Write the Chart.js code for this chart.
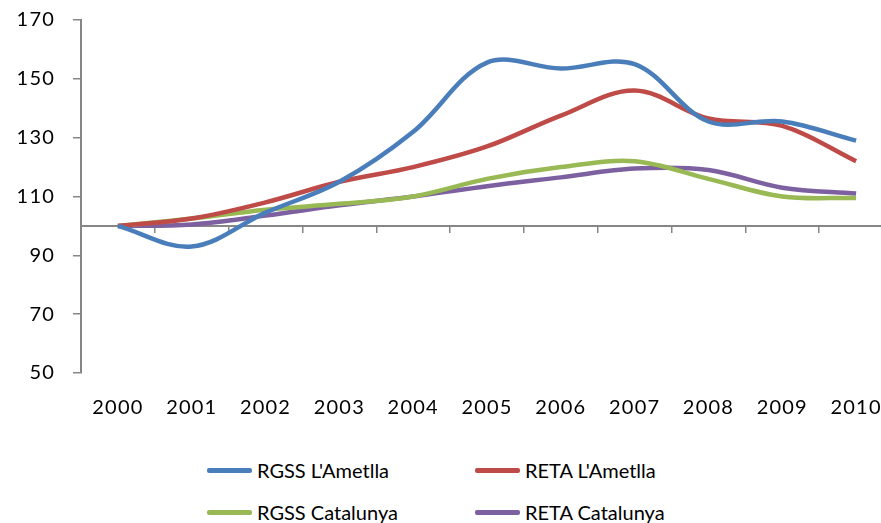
<!DOCTYPE html>
<html>
<head>
<meta charset="utf-8">
<script src="https://cdn.jsdelivr.net/npm/chart.js@4.4.1/dist/chart.umd.min.js"></script>
<style>
    html, body { margin: 0; padding: 0; background: #fff; overflow: hidden; width: 881px; height: 523px; }
    #wrap { position: absolute; left: 0; top: 0; width: 900px; height: 440px; }
    #legend { position: absolute; left: 0; top: 0; font-family: Lato, sans-serif; font-size: 20px; color: #000; }
    .item { position: absolute; height: 26px; display: flex; align-items: center; white-space: nowrap; }
    .item .swatch { width: 45px; height: 5px; border-radius: 2px; margin-right: 5px; }
</style>
</head>
<body>
<div id="wrap"><canvas id="chart" width="900" height="440"></canvas></div>
<div id="legend"></div>
<script>
// --- Dati ---
const years = ['2000', '2001', '2002', '2003', '2004', '2005', '2006', '2007', '2008', '2009', '2010'];
const rgssAmetlla = [100, 93, 104.5, 115, 132, 155.5, 153.5, 155, 135.5, 135.5, 129];
const retaAmetlla = [100, 102.5, 108, 115, 120, 127, 137.5, 146, 136.5, 134, 122];
const rgssCatalunya = [100, 102.5, 105.5, 107.5, 110, 116, 120, 122, 116, 110, 109.5];
const retaCatalunya = [100, 100.5, 103.5, 107, 110, 113.5, 116.5, 119.5, 119, 113, 111];
const seriesNames = ["RGSS L'Ametlla", "RETA L'Ametlla", 'RGSS Catalunya', 'RETA Catalunya'];
const seriesColors = ['#4A7EBB', '#BE4B48', '#98B954', '#7D60A0'];
const yTicks = [50, 70, 90, 110, 130, 150, 170];

const axisGray = '#868686';
const font = { family: 'Lato, sans-serif', size: 20 };

const datasets = [rgssAmetlla, retaAmetlla, rgssCatalunya, retaCatalunya].map((values, i) => ({
    label: seriesNames[i],
    data: values,
    borderColor: seriesColors[i],
    backgroundColor: seriesColors[i],
    borderWidth: 4.5,
    pointRadius: 0,
    tension: 0.35,
    xAxisID: 'x',
    yAxisID: 'y'
}));

// le etichette degli assi sono un po' più larghe nell'originale
const spacingPlugin = {
    id: 'spacing',
    beforeUpdate: (chart) => { chart.ctx.letterSpacing = '1.2px'; }
};

const chart = new Chart(document.getElementById('chart'), {
    type: 'line',
    data: { labels: years, datasets: datasets },
    plugins: [spacingPlugin],
    options: {
        responsive: false,
        animation: false,
        layout: { padding: { top: 20, right: 7, left: 0, bottom: 0 } },
        plugins: { legend: { display: false }, tooltip: { enabled: false } },
        scales: {
            x: {
                type: 'category',
                position: 'bottom',
                offset: true,
                grid: { display: false, drawTicks: false },
                border: { display: false },
                ticks: { color: '#000', font: font, padding: 23, maxRotation: 0, autoSkip: false },
                afterFit: (s) => { s.height = 440 - 373; s.paddingLeft = 0; s.paddingRight = 0; }
            },
            // linea orizzontale a quota 100 con le tacche tra le categorie
            xBase: {
                type: 'category',
                axis: 'x',
                labels: years,
                position: { y: 100 },
                offset: true,
                grid: { display: true, drawOnChartArea: false, drawTicks: true, tickLength: 6, offset: true, color: axisGray, lineWidth: 1.5 },
                border: { display: true, color: axisGray, width: 2 },
                ticks: { display: false },
                afterFit: (s) => { s.height = 0; s.paddingLeft = 0; s.paddingRight = 0; }
            },
            y: {
                min: 50,
                max: 170,
                afterBuildTicks: (s) => { s.ticks = yTicks.map(v => ({ value: v })); },
                grid: { display: true, drawOnChartArea: false, drawTicks: true, tickLength: 8, color: axisGray, lineWidth: 1.5 },
                border: { display: true, color: axisGray, width: 2 },
                ticks: { color: '#000', font: font, padding: 18 },
                afterFit: (s) => { s.width = 81; s.paddingTop = 0; s.paddingBottom = 0; }
            }
        }
    }
});

// --- Legenda HTML (due righe, due colonne) ---
const legendPos = [[207, 457], [475, 457], [207, 499], [475, 499]];
const legendEl = document.getElementById('legend');
chart.data.datasets.forEach((ds, i) => {
    const item = document.createElement('div');
    item.className = 'item';
    item.style.left = legendPos[i][0] + 'px';
    item.style.top = legendPos[i][1] + 'px';
    item.innerHTML = `<span class="swatch" style="background:${ds.borderColor}"></span><span>${ds.label}</span>`;
    legendEl.appendChild(item);
});
</script>
</body>
</html>
